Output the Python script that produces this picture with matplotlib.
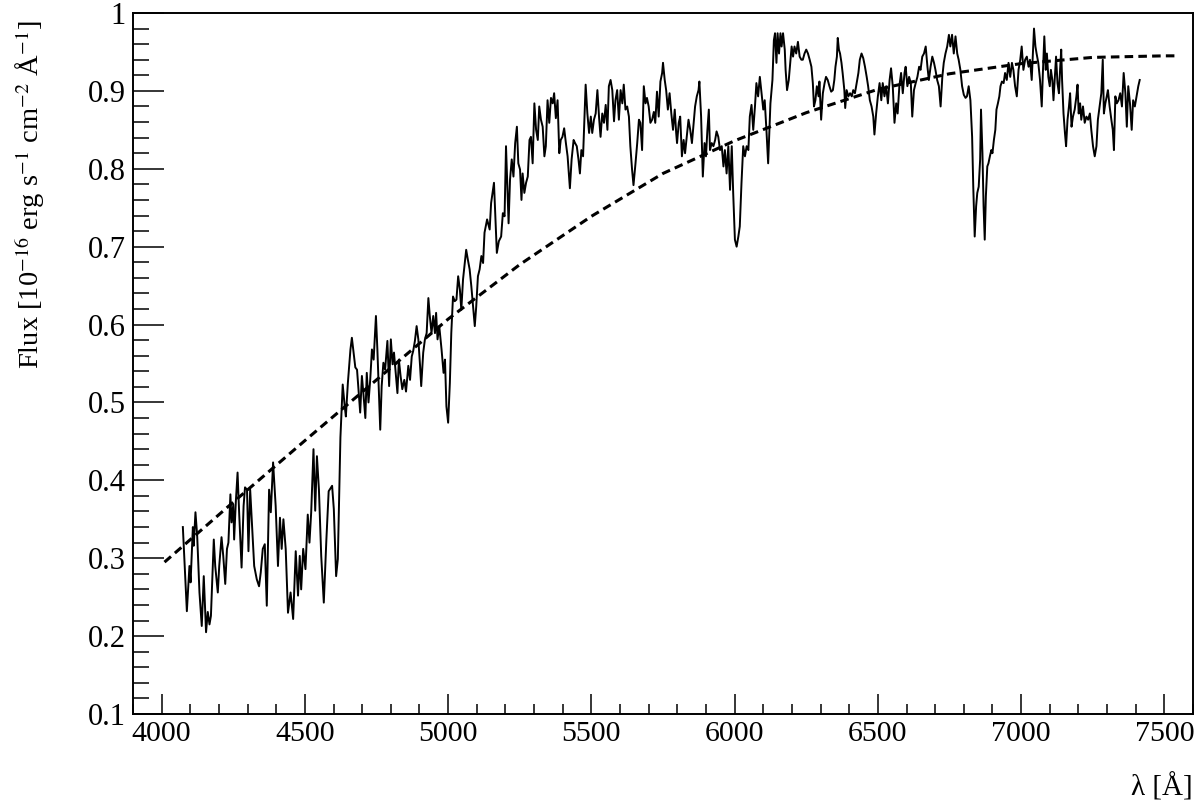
import matplotlib
matplotlib.use("Agg")
import matplotlib.pyplot as plt
import numpy as np

wave = [
    4074, 4088, 4097, 4101, 4109, 4112, 4118, 4124, 4132, 4140, 4147, 4155, 4161, 4167, 4172,
    4182, 4187, 4196, 4201, 4209, 4215, 4222, 4228, 4233, 4240, 4244, 4250, 4253, 4259, 4265,
    4271, 4279, 4286, 4291, 4298, 4303, 4309, 4315, 4323, 4332, 4340, 4346, 4353, 4360, 4367,
    4375, 4381, 4389, 4398, 4406, 4413, 4419, 4425, 4433, 4441, 4450, 4459, 4468, 4476, 4482,
    4487, 4494, 4502, 4510, 4516, 4522, 4530, 4536, 4542, 4549, 4557, 4566, 4575, 4583, 4595,
    4601, 4609, 4615, 4624,
    4632, 4639, 4643, 4650, 4659, 4664, 4670, 4676, 4682, 4687, 4693, 4699, 4705, 4711, 4716,
    4722, 4728, 4734, 4740, 4748, 4753, 4763, 4768, 4774, 4780, 4788, 4794, 4800, 4806, 4811,
    4817, 4823, 4828, 4834, 4840, 4847, 4853, 4861, 4867, 4873, 4878, 4884, 4890, 4896, 4902,
    4906, 4913, 4919, 4925, 4931, 4936, 4942, 4948, 4954, 4958, 4963, 4969, 4977, 4984, 4989,
    4994, 5000, 5006, 5011, 5017, 5023, 5029, 5035, 5041, 5046, 5052, 5058, 5063, 5069, 5075,
    5081, 5087, 5093, 5098, 5104, 5110, 5116, 5122,
    5127, 5136, 5145, 5150, 5160, 5164, 5170, 5177, 5185, 5191, 5197, 5202, 5211, 5216, 5222,
    5228, 5234, 5240, 5245, 5251, 5256, 5260, 5266, 5272, 5278, 5284, 5289, 5295, 5301, 5307,
    5313, 5318, 5324, 5330, 5336, 5341, 5347, 5353, 5359, 5365, 5370, 5376, 5382, 5388, 5393,
    5399, 5405, 5411, 5417, 5425, 5431, 5438, 5443, 5449, 5455, 5460, 5465, 5471, 5477, 5480,
    5486, 5492, 5498, 5503, 5509, 5515, 5521, 5527, 5532, 5538, 5544, 5550, 5556, 5561, 5567,
    5573, 5579, 5584, 5590, 5596, 5602, 5608, 5613, 5619, 5625, 5631, 5636, 5642, 5647, 5654,
    5660, 5666, 5671, 5677, 5683, 5689, 5694, 5700, 5706, 5712, 5718, 5723, 5729, 5735, 5741,
    5747, 5750, 5756, 5761, 5767, 5773, 5779, 5785, 5791, 5796,
    5799, 5805, 5810, 5816, 5822, 5827, 5833, 5839, 5845, 5851, 5857, 5862, 5868, 5874, 5877,
    5883, 5889, 5895, 5900, 5905, 5910, 5914, 5920, 5926, 5932, 5937, 5943, 5949, 5955, 5961,
    5966, 5972, 5978, 5984, 5990, 5995, 6001, 6007, 6013, 6018, 6024, 6030, 6036, 6042, 6048,
    6053, 6059, 6065, 6071, 6076, 6082, 6088, 6094, 6100, 6105,
    6111, 6117, 6125, 6132, 6137, 6141, 6146, 6150, 6155, 6160, 6164, 6169, 6175, 6178, 6183,
    6189, 6194, 6199, 6204, 6209, 6215, 6221, 6227, 6233, 6238, 6244, 6250, 6256, 6262, 6268,
    6273, 6277, 6282, 6287, 6293, 6296, 6302, 6308, 6314, 6319, 6325, 6331, 6337, 6343, 6348,
    6352, 6357, 6360, 6364, 6368, 6373, 6377, 6383, 6386, 6391, 6397, 6403, 6409, 6414, 6420,
    6426, 6432, 6437, 6443, 6449, 6455, 6461, 6466, 6472, 6478, 6484, 6488, 6494, 6500, 6506,
    6512, 6517, 6523, 6529, 6535, 6541, 6546, 6552, 6558, 6564, 6569, 6575, 6581, 6587, 6593,
    6597, 6603, 6609, 6615, 6620, 6626, 6632, 6638, 6644, 6649, 6655, 6661, 6667, 6673, 6678,
    6684, 6690, 6696, 6701, 6707, 6713, 6719, 6725, 6730, 6736, 6742, 6748, 6753, 6759, 6765,
    6771, 6777, 6782, 6788, 6794, 6800,
    6806, 6811, 6817, 6823, 6829, 6833, 6838, 6843, 6847, 6852, 6857, 6860, 6865, 6869, 6873,
    6877, 6882, 6886, 6891, 6896, 6900, 6905, 6910, 6914, 6919, 6924, 6928, 6933, 6939, 6944,
    6950, 6956, 6962, 6968, 6973, 6979, 6985, 6991, 6997, 7002, 7008, 7014, 7020, 7026, 7031,
    7037, 7042, 7045, 7050, 7054, 7060, 7066, 7072, 7076, 7081, 7086, 7090, 7095, 7100, 7104,
    7109, 7113, 7118, 7122, 7127, 7132, 7136, 7140, 7143, 7148, 7153, 7157, 7162, 7167, 7171,
    7176, 7181, 7187, 7193, 7197, 7201, 7206, 7210, 7216, 7222, 7228, 7234, 7240, 7245, 7251,
    7257, 7263, 7268, 7274, 7280, 7285, 7289, 7294, 7299, 7303, 7309, 7315, 7320, 7324, 7329,
    7334, 7340, 7346, 7352, 7358, 7364, 7369, 7374, 7380, 7386, 7391, 7397, 7403, 7409, 7414,
]
flux = [
    0.340, 0.232, 0.290, 0.269, 0.340, 0.316, 0.359, 0.329, 0.256, 0.213, 0.277, 0.205, 0.231, 0.215, 0.226,
    0.324, 0.290, 0.256, 0.290, 0.327, 0.303, 0.267, 0.312, 0.320, 0.382, 0.346, 0.369, 0.324, 0.373, 0.410,
    0.354, 0.288, 0.367, 0.391, 0.388, 0.309, 0.388, 0.346, 0.290, 0.273, 0.264, 0.282, 0.312, 0.318, 0.239,
    0.388, 0.359, 0.423, 0.367, 0.290, 0.352, 0.312, 0.350, 0.312, 0.230, 0.256, 0.222, 0.309, 0.252, 0.303,
    0.260, 0.312, 0.286, 0.356, 0.320, 0.359, 0.440, 0.361, 0.431, 0.388, 0.303, 0.243, 0.324, 0.386, 0.393,
    0.363, 0.277, 0.299, 0.455,
    0.523, 0.495, 0.482, 0.525, 0.568, 0.583, 0.564, 0.545, 0.542, 0.517, 0.487, 0.534, 0.508, 0.480, 0.538,
    0.500, 0.529, 0.568, 0.555, 0.611, 0.568, 0.465, 0.521, 0.551, 0.542, 0.579, 0.521, 0.581, 0.549, 0.564,
    0.538, 0.512, 0.555, 0.534, 0.517, 0.529, 0.514, 0.547, 0.529, 0.559, 0.566, 0.579, 0.598, 0.581, 0.547,
    0.521, 0.564, 0.581, 0.589, 0.634, 0.611, 0.589, 0.611, 0.589, 0.615, 0.581, 0.598, 0.568, 0.538, 0.555,
    0.495, 0.474, 0.525, 0.589, 0.636, 0.630, 0.632, 0.662, 0.645, 0.619, 0.658, 0.679, 0.696, 0.683, 0.671,
    0.649, 0.623, 0.598, 0.623, 0.662, 0.671, 0.688, 0.679,
    0.718, 0.735, 0.722, 0.756, 0.782, 0.747, 0.692, 0.707, 0.713, 0.743, 0.739, 0.829, 0.730, 0.786, 0.812,
    0.790, 0.833, 0.854, 0.807, 0.799, 0.760, 0.794, 0.769, 0.782, 0.790, 0.837, 0.841, 0.807, 0.884, 0.850,
    0.837, 0.880, 0.863, 0.854, 0.816, 0.829, 0.888, 0.859, 0.891, 0.884, 0.897, 0.865, 0.888, 0.820, 0.837,
    0.841, 0.852, 0.833, 0.816, 0.775, 0.812, 0.837, 0.833, 0.829, 0.812, 0.794, 0.824, 0.816, 0.880, 0.908,
    0.871, 0.846, 0.867, 0.846, 0.863, 0.871, 0.901, 0.865, 0.841, 0.871, 0.859, 0.882, 0.850, 0.906, 0.914,
    0.901, 0.861, 0.888, 0.901, 0.863, 0.901, 0.884, 0.908, 0.876, 0.880, 0.867, 0.829, 0.799, 0.779, 0.807,
    0.833, 0.863, 0.859, 0.824, 0.906, 0.884, 0.891, 0.880, 0.859, 0.863, 0.873, 0.859, 0.899, 0.867, 0.912,
    0.923, 0.936, 0.914, 0.901, 0.876, 0.897, 0.871, 0.850, 0.876, 0.846,
    0.833, 0.859, 0.867, 0.816, 0.837, 0.820, 0.841, 0.863, 0.850, 0.833, 0.859, 0.880, 0.893, 0.901, 0.912,
    0.867, 0.790, 0.833, 0.816, 0.850, 0.876, 0.824, 0.833, 0.829, 0.837, 0.848, 0.841, 0.824, 0.829, 0.803,
    0.824, 0.794, 0.829, 0.773, 0.829, 0.769, 0.709, 0.700, 0.713, 0.726, 0.782, 0.829, 0.816, 0.829, 0.824,
    0.867, 0.882, 0.850, 0.880, 0.910, 0.893, 0.918, 0.897, 0.876, 0.888,
    0.850, 0.807, 0.884, 0.914, 0.965, 0.974, 0.936, 0.974, 0.948, 0.974, 0.957, 0.974, 0.953, 0.927, 0.901,
    0.914, 0.936, 0.957, 0.944, 0.957, 0.948, 0.963, 0.944, 0.940, 0.940, 0.948, 0.953, 0.948, 0.940, 0.931,
    0.910, 0.880, 0.888, 0.906, 0.893, 0.912, 0.863, 0.897, 0.910, 0.918, 0.914, 0.906, 0.899, 0.901, 0.914,
    0.931, 0.944, 0.968, 0.953, 0.948, 0.936, 0.923, 0.901, 0.878, 0.901, 0.893, 0.897, 0.893, 0.901, 0.897,
    0.910, 0.923, 0.940, 0.948, 0.942, 0.931, 0.918, 0.906, 0.888, 0.880, 0.867, 0.844, 0.871, 0.893, 0.910,
    0.888, 0.910, 0.893, 0.906, 0.884, 0.914, 0.929, 0.906, 0.859, 0.884, 0.871, 0.906, 0.923, 0.897, 0.923,
    0.931, 0.906, 0.918, 0.910, 0.867, 0.901, 0.910, 0.918, 0.931, 0.927, 0.944, 0.948, 0.957, 0.931, 0.914,
    0.931, 0.944, 0.936, 0.927, 0.914, 0.906, 0.880, 0.918, 0.936, 0.948, 0.957, 0.972, 0.957, 0.972, 0.948,
    0.970, 0.948, 0.940, 0.927, 0.906, 0.895,
    0.891, 0.893, 0.906, 0.888, 0.841, 0.777, 0.713, 0.752, 0.769, 0.777, 0.812, 0.876, 0.820, 0.752, 0.709,
    0.765, 0.803, 0.807, 0.816, 0.824, 0.820, 0.837, 0.850, 0.876, 0.884, 0.893, 0.906, 0.912, 0.910, 0.923,
    0.914, 0.936, 0.918, 0.936, 0.927, 0.906, 0.893, 0.927, 0.940, 0.957, 0.927, 0.940, 0.944, 0.931, 0.940,
    0.914, 0.957, 0.980, 0.957, 0.948, 0.936, 0.914, 0.880, 0.923, 0.970, 0.927, 0.948, 0.918, 0.906, 0.927,
    0.914, 0.888, 0.918, 0.944, 0.910, 0.897, 0.927, 0.953, 0.914, 0.871, 0.846, 0.829, 0.863, 0.880, 0.897,
    0.854, 0.867, 0.876, 0.893, 0.908, 0.871, 0.884, 0.863, 0.880, 0.859, 0.867, 0.863, 0.871, 0.850, 0.829,
    0.816, 0.829, 0.863, 0.880, 0.897, 0.940, 0.871, 0.884, 0.893, 0.901, 0.880, 0.863, 0.850, 0.824, 0.893,
    0.884, 0.888, 0.897, 0.880, 0.923, 0.897, 0.854, 0.906, 0.884, 0.850, 0.888, 0.880, 0.893, 0.906, 0.914,
]

# fitted continuum (dashed)
fit_wave = [4010, 4250, 4500, 4750, 5000, 5250, 5500, 5750, 6000, 6250, 6500, 6750, 7000, 7250, 7500, 7550]
fit_flux = [0.295, 0.372, 0.451, 0.529, 0.607, 0.677, 0.739, 0.794, 0.836, 0.872, 0.902, 0.922, 0.935, 0.943, 0.945, 0.945]

x_ticks = [4000, 4500, 5000, 5500, 6000, 6500, 7000, 7500]
y_ticks = [0.1, 0.2, 0.3, 0.4, 0.5, 0.6, 0.7, 0.8, 0.9, 1.0]
y_tick_labels = ["0.1", "0.2", "0.3", "0.4", "0.5", "0.6", "0.7", "0.8", "0.9", "1"]

plt.rcParams["font.family"] = ["Liberation Serif", "DejaVu Serif"]
plt.rcParams["mathtext.fontset"] = "stix"

fig = plt.figure(figsize=(12, 8.05), dpi=100)
ax = fig.add_axes([133 / 1200, 1 - 714 / 805, 1060 / 1200, 701 / 805])

ax.plot(wave, flux, color="black", lw=1.4)
ax.plot(fit_wave, fit_flux, color="black", lw=2.2, dashes=(2.8, 1.7))

ax.set_xlim(3900, 7600)
ax.set_ylim(0.1, 1.0)
ax.set_xticks(x_ticks)
ax.set_xticklabels([str(t) for t in x_ticks])
ax.set_xticks(np.arange(3900, 7601, 100), minor=True)
ax.set_yticks(y_ticks)
ax.set_yticklabels(y_tick_labels)
ax.set_yticks(np.arange(0.1, 1.001, 0.02), minor=True)

for sp in ax.spines.values():
    sp.set_linewidth(1.4)

ax.tick_params(axis="x", which="major", direction="in", length=14.5, width=1.1, labelsize=21.5, pad=5)
ax.tick_params(axis="x", which="minor", direction="in", length=7.2, width=1.1)
ax.tick_params(axis="y", which="major", direction="in", length=22.5, width=1.1, labelsize=22, pad=5)
ax.tick_params(axis="y", which="minor", direction="in", length=11.5, width=1.1)

fig.text(30 / 1200, 1 - 20 / 805,
         r"Flux [10$^{-16}$ erg s$^{-1}$ cm$^{-2}$ Å$^{-1}$]",
         rotation=90, ha="center", va="top", fontsize=20.5)
fig.text(1193 / 1200, 1 - 787 / 805, r"λ [Å]", ha="right", va="center", fontsize=21)

fig.savefig("out.png", dpi=100)
